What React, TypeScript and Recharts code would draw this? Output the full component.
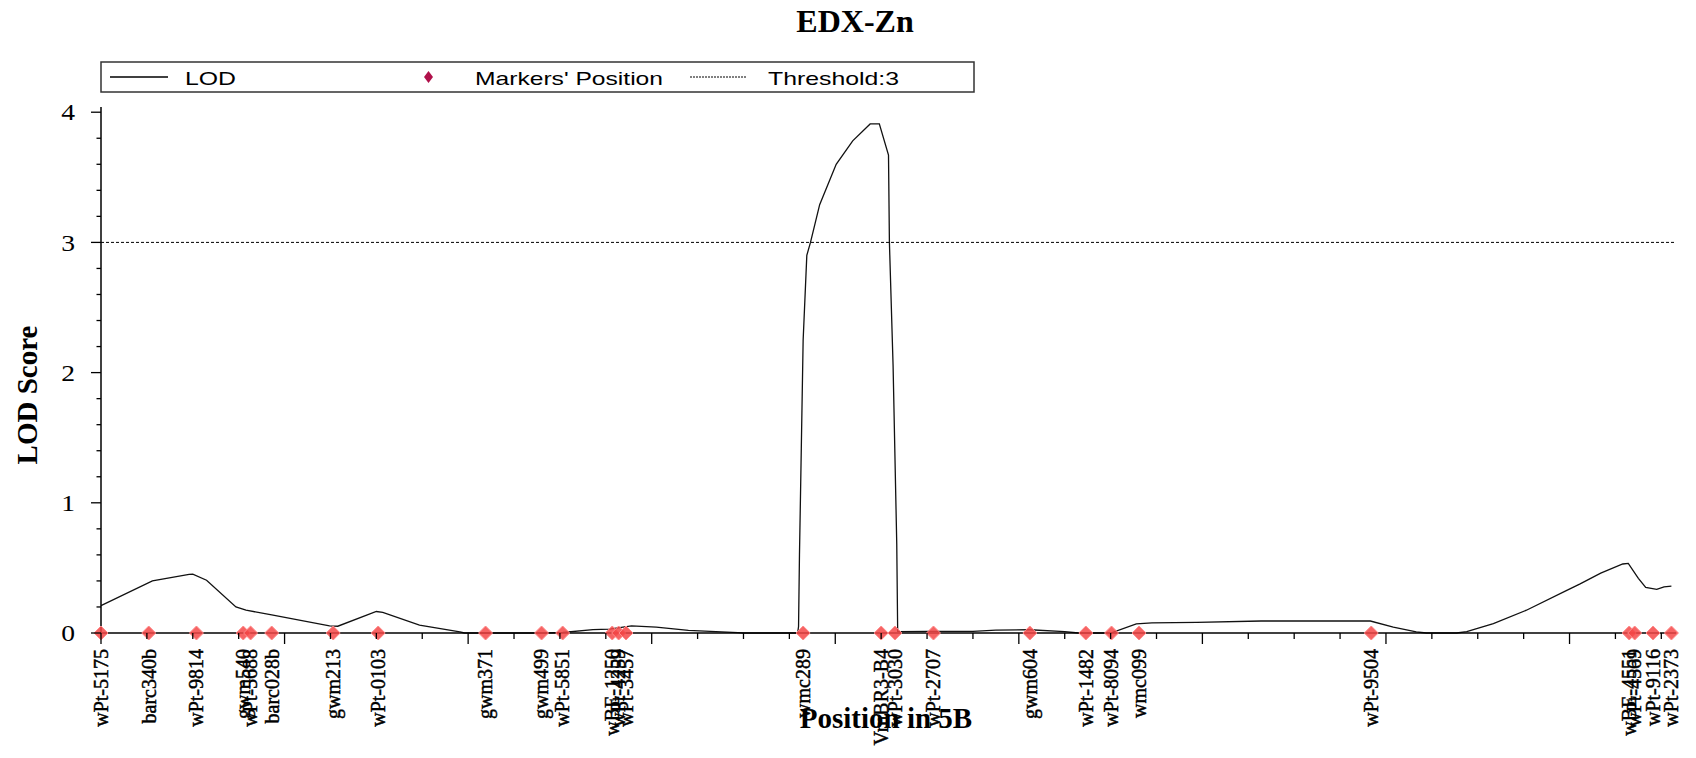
import { ComposedChart, Line, Scatter, XAxis, YAxis, ReferenceLine } from 'recharts';

// LOD profile along 5B (position in cM, LOD score)
const lodPos = [
  0, 5.6, 9.6, 10.0, 11.5, 14.7, 15.8, 18.6, 24.9, 25.8, 30.0, 30.7, 34.7, 39.1, 39.6,
  48.5, 50.3, 53.6, 55.4, 57.8, 60.5, 64.0, 69.4, 70.0, 75.9, 76.0, 76.1, 76.3, 76.5,
  76.9, 77.3, 78.3, 80.1, 81.9, 83.8, 84.8, 85.8, 85.9, 86.3, 86.7, 86.8, 90.0, 95.0,
  97.5, 101.2, 105.0, 106.5, 110.0, 112.8, 114.5, 119.4, 126.4, 138.3, 140.8, 143.3,
  144.4, 147.7, 148.8, 151.7, 155.3, 159.7, 161.1, 163.4, 165.8, 166.4, 167.5, 168.3,
  169.5, 170.3, 171.1,
];
const lodVal = [
  0.21, 0.4, 0.45, 0.452, 0.405, 0.2, 0.175, 0.14, 0.055, 0.052, 0.165, 0.158, 0.06, 0.008, 0,
  0, 0.004, 0.026, 0.03, 0.055, 0.045, 0.02, 0.003, 0, 0, 0.05, 0.6, 1.42, 2.25,
  2.9, 3.0, 3.29, 3.6, 3.78, 3.91, 3.91, 3.67, 3.0, 2.05, 0.68, 0.01, 0.012, 0.012,
  0.022, 0.025, 0.01, 0, 0, 0.07, 0.077, 0.082, 0.092, 0.092, 0.046, 0.008,
  0, 0, 0.01, 0.072, 0.175, 0.328, 0.375, 0.46, 0.53, 0.535, 0.42, 0.35,
  0.335, 0.355, 0.36,
];

const markerNames = [
  'wPt-5175', 'barc340b', 'wPt-9814', 'gwm540', 'wPt-5688', 'barc028b', 'gwm213', 'wPt-0103',
  'gwm371', 'gwm499', 'wPt-5851', 'wBE-1250', 'wPt-4259', 'wPt-3457', 'wmc289', 'VrnBR3-B4',
  'wPt-3030', 'wPt-2707', 'gwm604', 'wPt-1482', 'wPt-8094', 'wmc099', 'wPt-9504', 'wBE-4551',
  'wPt-4569', 'wPt-9116', 'wPt-2373',
];
const markerPos = [
  0, 5.2, 10.4, 15.5, 16.3, 18.6, 25.3, 30.2, 41.9, 48.0, 50.3, 55.7, 56.4, 57.2, 76.5, 85.0,
  86.5, 90.7, 101.2, 107.3, 110.1, 113.1, 138.4, 166.5, 167.1, 169.1, 171.1,
];

const xTicks = [
  0, 5, 10, 15, 20, 25, 30, 35, 40, 45, 50, 55, 60, 65, 70, 75, 80, 85, 90, 95, 100,
  105, 110, 115, 120, 125, 130, 135, 140, 145, 150, 155, 160, 165, 170,
];
const xMajorTicks = [0, 20, 40, 60, 80, 100, 120, 140, 160];
const yTicks = [
  0, 0.2, 0.4, 0.6, 0.8, 1, 1.2, 1.4, 1.6, 1.8, 2, 2.2, 2.4, 2.6, 2.8, 3, 3.2, 3.4, 3.6,
  3.8, 4,
];
const yLabels = [0, 1, 2, 3, 4];
const threshold = 3;

const lodData = lodPos.map((p, i) => ({ pos: p, lod: lodVal[i] }));
const markerData = markerPos.map((p, i) => ({ pos: p, lod: 0, name: markerNames[i] }));

const SERIF = "'Liberation Serif', 'Times New Roman', serif";
const SANS = "'Liberation Sans', Arial, sans-serif";

function XTick({ x, y, payload }: { x?: number; y?: number; payload?: { value: number } }) {
  if (!payload || x == null || y == null) return null;
  const major = xMajorTicks.includes(payload.value);
  return <line x1={x} x2={x} y1={y} y2={y + (major ? 11 : 6)} stroke="#000" strokeWidth={1.3} />;
}

function YTick({ x, y, payload }: { x?: number; y?: number; payload?: { value: number } }) {
  if (!payload || x == null || y == null) return null;
  const major = yLabels.includes(payload.value);
  return (
    <g>
      <line x1={x} x2={x - (major ? 10 : 4.5)} y1={y} y2={y} stroke="#000" strokeWidth={1.3} />
      {major && (
        <text
          x={x - 26}
          y={y}
          dy="0.34em"
          textAnchor="end"
          fontFamily={SERIF}
          fontSize={24}
          fill="#000"
          transform={`translate(${x - 26}, 0) scale(1.15, 1) translate(${-(x - 26)}, 0)`}
        >
          {payload.value}
        </text>
      )}
    </g>
  );
}

function MarkerShape(props: { cx?: number; cy?: number; payload?: { name: string } }) {
  const { cx = 0, cy = 0, payload } = props;
  const r = 7;
  const ly = cy + 16;
  return (
    <g>
      <path
        d={`M${cx},${cy - r} L${cx + r},${cy} L${cx},${cy + r} L${cx - r},${cy} Z`}
        fill="#f44848"
        fillOpacity={0.85}
        stroke="#ff8a8a"
        strokeWidth={1}
      />
      <text
        x={cx}
        y={ly}
        dy="0.34em"
        textAnchor="end"
        transform={`rotate(-90, ${cx}, ${ly})`}
        fontFamily={SERIF}
        fontSize={20}
        fill="#000"
        stroke="#000"
        strokeWidth={0.45}
      >
        {payload?.name}
      </text>
    </g>
  );
}

export default function App() {
  return (
    <div style={{ position: 'absolute', left: 0, top: 0, width: 1696, height: 758, background: '#fff' }}>
      <ComposedChart
        width={1696}
        height={758}
        data={lodData}
        margin={{ top: 107, right: 20, bottom: 0, left: 0 }}
      >
        <XAxis
          type="number"
          dataKey="pos"
          domain={[0, 171.6]}
          ticks={xTicks}
          interval={0}
          tick={<XTick />}
          tickLine={false}
          tickSize={0}
          tickMargin={0}
          height={125}
          axisLine={{ stroke: '#000', strokeWidth: 1.5 }}
        />
        <YAxis
          type="number"
          domain={[0, 4.04]}
          ticks={yTicks}
          interval={0}
          tick={<YTick />}
          tickLine={false}
          tickSize={0}
          tickMargin={0}
          width={101}
          axisLine={{ stroke: '#000', strokeWidth: 1.5 }}
        />
        <ReferenceLine y={threshold} stroke="#000" strokeWidth={1} strokeDasharray="3 2" />
        <Line
          type="linear"
          dataKey="lod"
          stroke="#111"
          strokeWidth={1.3}
          dot={false}
          isAnimationActive={false}
        />
        <Scatter data={markerData} dataKey="lod" shape={<MarkerShape />} isAnimationActive={false} />
      </ComposedChart>
      <svg
        width={1696}
        height={758}
        style={{ position: 'absolute', left: 0, top: 0, pointerEvents: 'none' }}
      >
        <text x={855} y={32} textAnchor="middle" fontFamily={SERIF} fontWeight="bold" fontSize={32} fill="#000">
          EDX-Zn
        </text>
        <rect x={101} y={62} width={873} height={30} fill="#fff" stroke="#333" strokeWidth={1.5} />
        <line x1={110} x2={168} y1={77} y2={77} stroke="#000" strokeWidth={1.3} />
        <text x={185} y={85} fontFamily={SANS} fontSize={19} textLength={51} lengthAdjust="spacingAndGlyphs" fill="#000">
          LOD
        </text>
        <path d="M428.5,71 L433,77 L428.5,83 L424,77 Z" fill="#b0104a" />
        <text x={475} y={85} fontFamily={SANS} fontSize={19} textLength={188} lengthAdjust="spacingAndGlyphs" fill="#000">
          Markers' Position
        </text>
        <line x1={690} x2={746} y1={77} y2={77} stroke="#000" strokeWidth={1} strokeDasharray="2 1" />
        <text x={768} y={85} fontFamily={SANS} fontSize={19} textLength={131} lengthAdjust="spacingAndGlyphs" fill="#000">
          Threshold:3
        </text>
        <text
          x={27}
          y={395}
          dy="0.34em"
          textAnchor="middle"
          transform="rotate(-90, 27, 395)"
          fontFamily={SERIF}
          fontWeight="bold"
          fontSize={29}
          fill="#000"
        >
          LOD Score
        </text>
        <text x={886} y={728} textAnchor="middle" fontFamily={SERIF} fontWeight="bold" fontSize={29} fill="#000">
          Position in 5B
        </text>
      </svg>
    </div>
  );
}
